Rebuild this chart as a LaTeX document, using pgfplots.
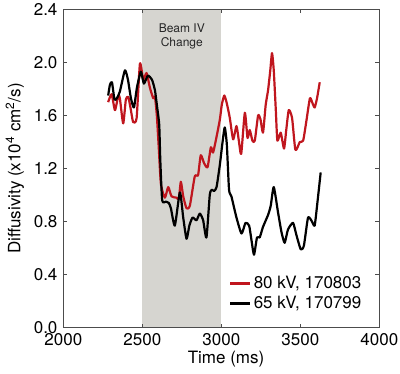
\documentclass[border=0pt]{standalone}
\usepackage{fontspec}
\setmainfont{TeX Gyre Heros}
\usepackage{pgfplots}
\pgfplotsset{compat=1.18}
\definecolor{myred}{RGB}{192,22,30}
\definecolor{shade}{RGB}{214,213,208}
\begin{document}
\fontsize{17bp}{20bp}\selectfont
\begin{tikzpicture}
\begin{axis}[
  at={(0,0)}, anchor=south west,
  scale only axis, width=316bp, height=318.4bp,
  xmin=2000, xmax=4000, ymin=0, ymax=2.4,
  xtick={2000,2500,3000,3500,4000},
  ytick={0,0.4,0.8,1.2,1.6,2.0,2.4},
  /pgf/number format/assume math mode=true,
  xticklabel style={/pgf/number format/set thousands separator={}},
  yticklabel style={/pgf/number format/.cd,fixed,fixed zerofill,precision=1},
  tick label style={font=\fontsize{17bp}{20bp}\selectfont},
  tick align=inside, major tick length=4bp,
  axis line style={line width=0.8bp, color=black!70},
  tick style={line width=0.8bp, color=black!70},
  axis on top,
  every axis x label/.style={at={(rel axis cs:0.515,0)}, anchor=center, yshift=-31.3bp},
  every axis y label/.style={at={(rel axis cs:0,0.5)}, rotate=90, anchor=center, yshift=48.3bp},
  label style={font=\fontsize{17bp}{20bp}\selectfont},
  xlabel={Time (ms)},
  ylabel={Diffusivity (x10\textsuperscript{4} cm\textsuperscript{2}/s)},
  legend style={draw=none, fill=none, at={(rel axis cs:0.523,0.1085)}, anchor=west,
    font=\fontsize{17bp}{20bp}\selectfont, inner sep=0pt, row sep=0pt,
    nodes={inner ysep=2.5bp}},
  legend cell align=left,
  legend image code/.code={\draw[#1, line width=3bp] (0bp,0bp) -- (20bp,0bp);},
]
\addplot[fill=shade, draw=none, forget plot] coordinates {(2500,0) (3000,0) (3000,2.4) (2500,2.4)} -- cycle;
\node[align=center, font=\fontsize{12bp}{14bp}\selectfont, text=black!85] at (axis cs:2750,2.197) {Beam IV\\Change};
\addplot[myred, line width=2.2bp, smooth, tension=0.35, line join=round] coordinates {
(2284,1.70)(2306,1.76)(2327,1.64)(2348,1.75)(2358,1.73)(2379,1.54)(2396,1.72)(2411,1.74)(2425,1.66)(2442,1.55)(2464,1.58)(2485,1.99)(2506,1.87)(2527,1.92)(2548,1.81)(2569,1.73)(2580,1.74)(2592,1.60)(2605,1.34)(2618,1.08)(2643,0.98)(2664,1.06)(2685,0.99)(2717,0.98)(2731,0.97)(2744,1.10)(2759,0.99)(2780,0.90)(2801,0.92)(2832,1.14)(2853,1.15)(2870,1.30)(2891,1.24)(2913,1.21)(2934,1.36)(2948,1.32)(2970,1.44)(2991,1.57)(3003,1.68)(3019,1.75)(3035,1.69)(3054,1.58)(3075,1.42)(3096,1.52)(3111,1.41)(3126,1.31)(3149,1.62)(3166,1.43)(3180,1.49)(3197,1.41)(3212,1.41)(3233,1.60)(3248,1.57)(3264,1.47)(3281,1.68)(3296,1.79)(3310,1.94)(3321,2.07)(3332,1.94)(3345,1.64)(3355,1.41)(3376,1.47)(3397,1.35)(3411,1.49)(3427,1.64)(3448,1.58)(3469,1.34)(3497,1.40)(3518,1.41)(3540,1.57)(3561,1.73)(3578,1.69)(3591,1.66)(3606,1.73)(3623,1.85)
};
\addlegendentry{80 kV, 170803}
\addplot[black, line width=2.2bp, smooth, tension=0.35, line join=round] coordinates {
(2284,1.75)(2295,1.83)(2308,1.85)(2324,1.72)(2339,1.73)(2358,1.78)(2390,1.94)(2409,1.87)(2428,1.73)(2447,1.66)(2466,1.81)(2491,1.93)(2510,1.84)(2535,1.90)(2561,1.87)(2580,1.79)(2592,1.68)(2607,1.53)(2614,1.26)(2626,0.96)(2649,0.95)(2668,0.94)(2681,0.90)(2706,0.77)(2738,1.02)(2759,0.83)(2780,0.67)(2798,0.77)(2818,0.83)(2843,0.81)(2864,0.86)(2885,0.81)(2906,0.68)(2927,1.00)(2940,1.04)(2954,1.03)(2970,1.06)(2991,1.23)(3009,1.41)(3022,1.51)(3035,1.38)(3049,1.04)(3064,0.99)(3096,0.83)(3128,0.71)(3153,0.79)(3176,0.77)(3191,0.66)(3207,0.55)(3226,0.68)(3243,0.68)(3264,0.76)(3296,0.85)(3313,0.92)(3332,1.06)(3359,0.87)(3381,0.72)(3401,0.64)(3422,0.74)(3454,0.79)(3475,0.70)(3503,0.59)(3523,0.62)(3549,0.83)(3574,0.80)(3591,0.77)(3608,0.94)(3629,1.17)
};
\addlegendentry{65 kV, 170799}
\end{axis}
\pgfresetboundingbox
\path (-63.3bp,-46.3bp) rectangle (336.7bp,327.7bp);
\end{tikzpicture}
\end{document}
